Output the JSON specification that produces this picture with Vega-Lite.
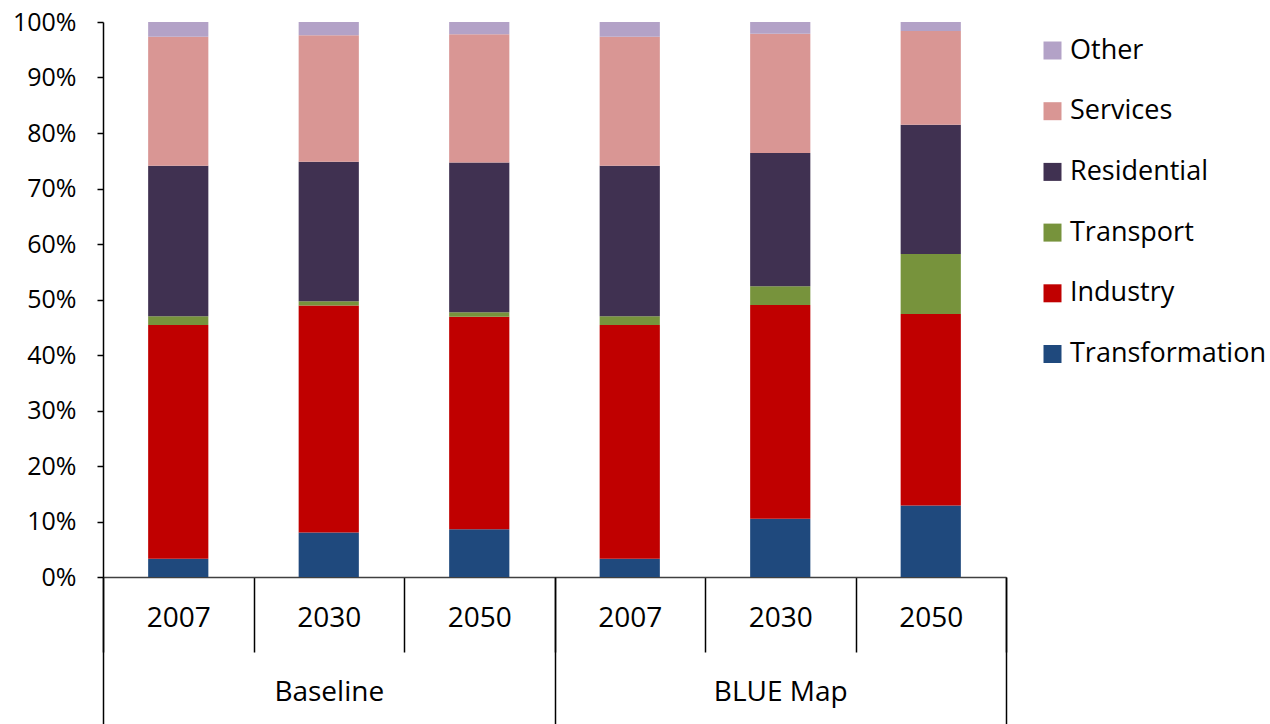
{
  "$schema": "https://vega.github.io/schema/vega-lite/v6.json",
  "autosize": {"type": "none"},
  "width": 903,
  "height": 555,
  "padding": {"left": 103, "top": 22, "right": 264, "bottom": 147},
  "config": {
    "view": {"stroke": null},
    "font": "Open Sans",
    "axis": {"labelColor": "#000000", "labelFont": "Open Sans", "grid": false}
  },
  "data": {
    "values": [
      {"case": "Baseline 2007", "scenario": "Baseline", "sector": "Transformation", "share": 3.3},
      {"case": "Baseline 2007", "scenario": "Baseline", "sector": "Industry", "share": 42.1},
      {"case": "Baseline 2007", "scenario": "Baseline", "sector": "Transport", "share": 1.6},
      {"case": "Baseline 2007", "scenario": "Baseline", "sector": "Residential", "share": 27.1},
      {"case": "Baseline 2007", "scenario": "Baseline", "sector": "Services", "share": 23.25},
      {"case": "Baseline 2007", "scenario": "Baseline", "sector": "Other", "share": 2.65},
      {"case": "Baseline 2030", "scenario": "Baseline", "sector": "Transformation", "share": 8.0},
      {"case": "Baseline 2030", "scenario": "Baseline", "sector": "Industry", "share": 40.9},
      {"case": "Baseline 2030", "scenario": "Baseline", "sector": "Transport", "share": 0.8},
      {"case": "Baseline 2030", "scenario": "Baseline", "sector": "Residential", "share": 25.1},
      {"case": "Baseline 2030", "scenario": "Baseline", "sector": "Services", "share": 22.8},
      {"case": "Baseline 2030", "scenario": "Baseline", "sector": "Other", "share": 2.4},
      {"case": "Baseline 2050", "scenario": "Baseline", "sector": "Transformation", "share": 8.6},
      {"case": "Baseline 2050", "scenario": "Baseline", "sector": "Industry", "share": 38.3},
      {"case": "Baseline 2050", "scenario": "Baseline", "sector": "Transport", "share": 0.8},
      {"case": "Baseline 2050", "scenario": "Baseline", "sector": "Residential", "share": 27.0},
      {"case": "Baseline 2050", "scenario": "Baseline", "sector": "Services", "share": 23.1},
      {"case": "Baseline 2050", "scenario": "Baseline", "sector": "Other", "share": 2.2},
      {"case": "BLUE Map 2007", "scenario": "BLUE Map", "sector": "Transformation", "share": 3.3},
      {"case": "BLUE Map 2007", "scenario": "BLUE Map", "sector": "Industry", "share": 42.1},
      {"case": "BLUE Map 2007", "scenario": "BLUE Map", "sector": "Transport", "share": 1.6},
      {"case": "BLUE Map 2007", "scenario": "BLUE Map", "sector": "Residential", "share": 27.1},
      {"case": "BLUE Map 2007", "scenario": "BLUE Map", "sector": "Services", "share": 23.25},
      {"case": "BLUE Map 2007", "scenario": "BLUE Map", "sector": "Other", "share": 2.65},
      {"case": "BLUE Map 2030", "scenario": "BLUE Map", "sector": "Transformation", "share": 10.5},
      {"case": "BLUE Map 2030", "scenario": "BLUE Map", "sector": "Industry", "share": 38.5},
      {"case": "BLUE Map 2030", "scenario": "BLUE Map", "sector": "Transport", "share": 3.4},
      {"case": "BLUE Map 2030", "scenario": "BLUE Map", "sector": "Residential", "share": 24.0},
      {"case": "BLUE Map 2030", "scenario": "BLUE Map", "sector": "Services", "share": 21.5},
      {"case": "BLUE Map 2030", "scenario": "BLUE Map", "sector": "Other", "share": 2.1},
      {"case": "BLUE Map 2050", "scenario": "BLUE Map", "sector": "Transformation", "share": 12.9},
      {"case": "BLUE Map 2050", "scenario": "BLUE Map", "sector": "Industry", "share": 34.5},
      {"case": "BLUE Map 2050", "scenario": "BLUE Map", "sector": "Transport", "share": 10.8},
      {"case": "BLUE Map 2050", "scenario": "BLUE Map", "sector": "Residential", "share": 23.3},
      {"case": "BLUE Map 2050", "scenario": "BLUE Map", "sector": "Services", "share": 16.9},
      {"case": "BLUE Map 2050", "scenario": "BLUE Map", "sector": "Other", "share": 1.6}
    ]
  },
  "layer": [
    {
      "transform": [
        {"calculate": "indexof(['Transformation', 'Industry', 'Transport', 'Residential', 'Services', 'Other'], datum.sector)", "as": "stackRank"}
      ],
      "mark": {"type": "bar", "width": {"band": 0.4}},
      "encoding": {
        "x": {
          "field": "case",
          "type": "nominal",
          "sort": null,
          "scale": {"paddingInner": 0, "paddingOuter": 0},
          "axis": {
            "orient": "bottom",
            "title": null,
            "labelAngle": 0,
            "labelExpr": "slice(datum.label, -4)",
            "labelFontSize": 28,
            "labelBaseline": "middle",
            "labelPadding": -34,
            "tickBand": "extent",
            "tickSize": 75,
            "tickColor": "#000000",
            "tickWidth": 1.5,
            "domainColor": "#404040",
            "domainWidth": 1.5
          }
        },
        "y": {
          "field": "share",
          "type": "quantitative",
          "stack": "zero",
          "scale": {"domain": [0, 100], "nice": false},
          "axis": {
            "title": null,
            "values": [0, 10, 20, 30, 40, 50, 60, 70, 80, 90, 100],
            "labelExpr": "datum.value + '%'",
            "labelFontSize": 25,
            "labelPadding": 21,
            "tickSize": 6,
            "tickColor": "#000000",
            "tickWidth": 1.5,
            "domainColor": "#000000",
            "domainWidth": 1.5
          }
        },
        "order": {"field": "stackRank", "type": "quantitative", "sort": "ascending"},
        "color": {
          "field": "sector",
          "type": "nominal",
          "scale": {
            "domain": ["Transformation", "Industry", "Transport", "Residential", "Services", "Other"],
            "range": ["#1F497D", "#C00000", "#77933C", "#403151", "#D99694", "#B3A2C7"]
          },
          "legend": {
            "title": null,
            "orient": "none",
            "legendX": 936,
            "legendY": 15,
            "padding": 0,
            "values": ["Other", "Services", "Residential", "Transport", "Industry", "Transformation"],
            "symbolType": "square",
            "symbolSize": 324,
            "symbolStrokeWidth": 0,
            "labelFont": "Open Sans",
            "labelFontSize": 27,
            "labelColor": "#000000",
            "labelOffset": 4,
            "rowPadding": 32.7,
            "labelLimit": 300
          }
        }
      }
    },
    {
      "mark": {"type": "rule", "opacity": 0},
      "encoding": {
        "x": {
          "field": "scenario",
          "type": "nominal",
          "sort": null,
          "scale": {"type": "band", "paddingInner": 0, "paddingOuter": 0},
          "axis": {
            "orient": "bottom",
            "title": null,
            "labelAngle": 0,
            "labelFontSize": 28,
            "labelBaseline": "middle",
            "labelPadding": -32,
            "tickBand": "extent",
            "tickSize": 147,
            "tickColor": "#000000",
            "tickWidth": 1.5,
            "domain": false
          }
        }
      }
    }
  ],
  "resolve": {"scale": {"x": "independent"}, "axis": {"x": "independent"}}
}
